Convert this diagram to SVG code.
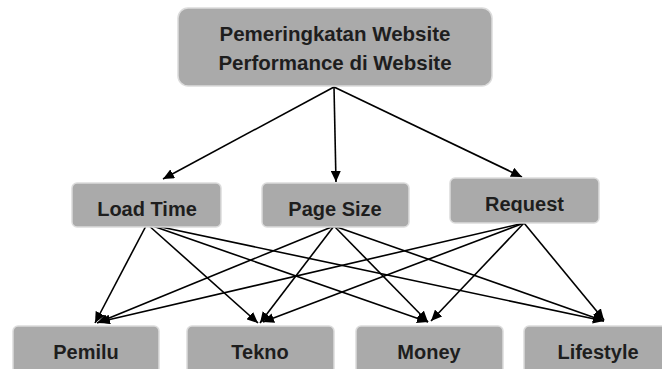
<svg xmlns="http://www.w3.org/2000/svg" width="662" height="369" viewBox="0 0 662 369">
<style>
.box{fill:#aaaaaa;stroke:#dcdcdc;stroke-width:1.5}
.lbl{font-family:"Liberation Sans",Arial,sans-serif;font-weight:bold;font-size:20px;fill:#1e1e1e;text-anchor:middle}
.edge{stroke:#000;stroke-width:1.6;fill:none;marker-end:url(#ah)}
</style>
<defs>
<marker id="ah" markerUnits="userSpaceOnUse" markerWidth="12" markerHeight="10" refX="11" refY="5" orient="auto">
<path d="M0,0 L11,5 L0,10 Z" fill="#000"/>
</marker>
<clipPath id="reqclip"><rect x="450" y="178" width="149" height="35"/></clipPath>
</defs>
<rect width="662" height="369" fill="#fff"/>
<g id="connectors">
<line class="edge" x1="334" y1="87" x2="163" y2="179"/>
<line class="edge" x1="334" y1="87" x2="336" y2="182"/>
<line class="edge" x1="334" y1="87" x2="522" y2="177"/>
<line class="edge" x1="147" y1="224" x2="95" y2="323"/>
<line class="edge" x1="147" y1="224" x2="258" y2="323"/>
<line class="edge" x1="147" y1="224" x2="428" y2="322"/>
<line class="edge" x1="147" y1="224" x2="604" y2="321"/>
<line class="edge" x1="334" y1="226" x2="97" y2="323"/>
<line class="edge" x1="334" y1="226" x2="260" y2="323"/>
<line class="edge" x1="334" y1="226" x2="428" y2="322"/>
<line class="edge" x1="334" y1="226" x2="604" y2="321"/>
<line class="edge" x1="524" y1="223" x2="99" y2="322"/>
<line class="edge" x1="524" y1="223" x2="263" y2="322"/>
<line class="edge" x1="524" y1="223" x2="431" y2="321"/>
<line class="edge" x1="524" y1="223" x2="604" y2="320"/>
</g>
<g id="top">
<rect class="box" x="178" y="8" width="314" height="78" rx="10"/>
<text class="lbl" x="335" y="41" style="font-size:20.5px">Pemeringkatan Website</text>
<text class="lbl" x="335" y="70" style="font-size:20.5px">Performance di Website</text>
</g>
<g id="loadtime">
<rect class="box" x="72" y="183" width="149" height="44" rx="5"/>
<text class="lbl" x="147" y="216">Load Time</text>
</g>
<g id="pagesize">
<rect class="box" x="262" y="183" width="147" height="44" rx="5"/>
<text class="lbl" x="335" y="216">Page Size</text>
</g>
<g id="request">
<rect class="box" x="450" y="178" width="149" height="45" rx="5"/>
<text class="lbl" x="524.5" y="211" clip-path="url(#reqclip)">Request</text>
</g>
<g id="pemilu">
<rect class="box" x="13" y="326" width="146" height="48" rx="5"/>
<text class="lbl" x="86" y="359">Pemilu</text>
</g>
<g id="tekno">
<rect class="box" x="187" y="326" width="147" height="48" rx="5"/>
<text class="lbl" x="260" y="359">Tekno</text>
</g>
<g id="money">
<rect class="box" x="356" y="326" width="147" height="48" rx="5"/>
<text class="lbl" x="429" y="359">Money</text>
</g>
<g id="lifestyle">
<rect class="box" x="524" y="326" width="148" height="48" rx="5"/>
<text class="lbl" x="598" y="359">Lifestyle</text>
</g>
</svg>
